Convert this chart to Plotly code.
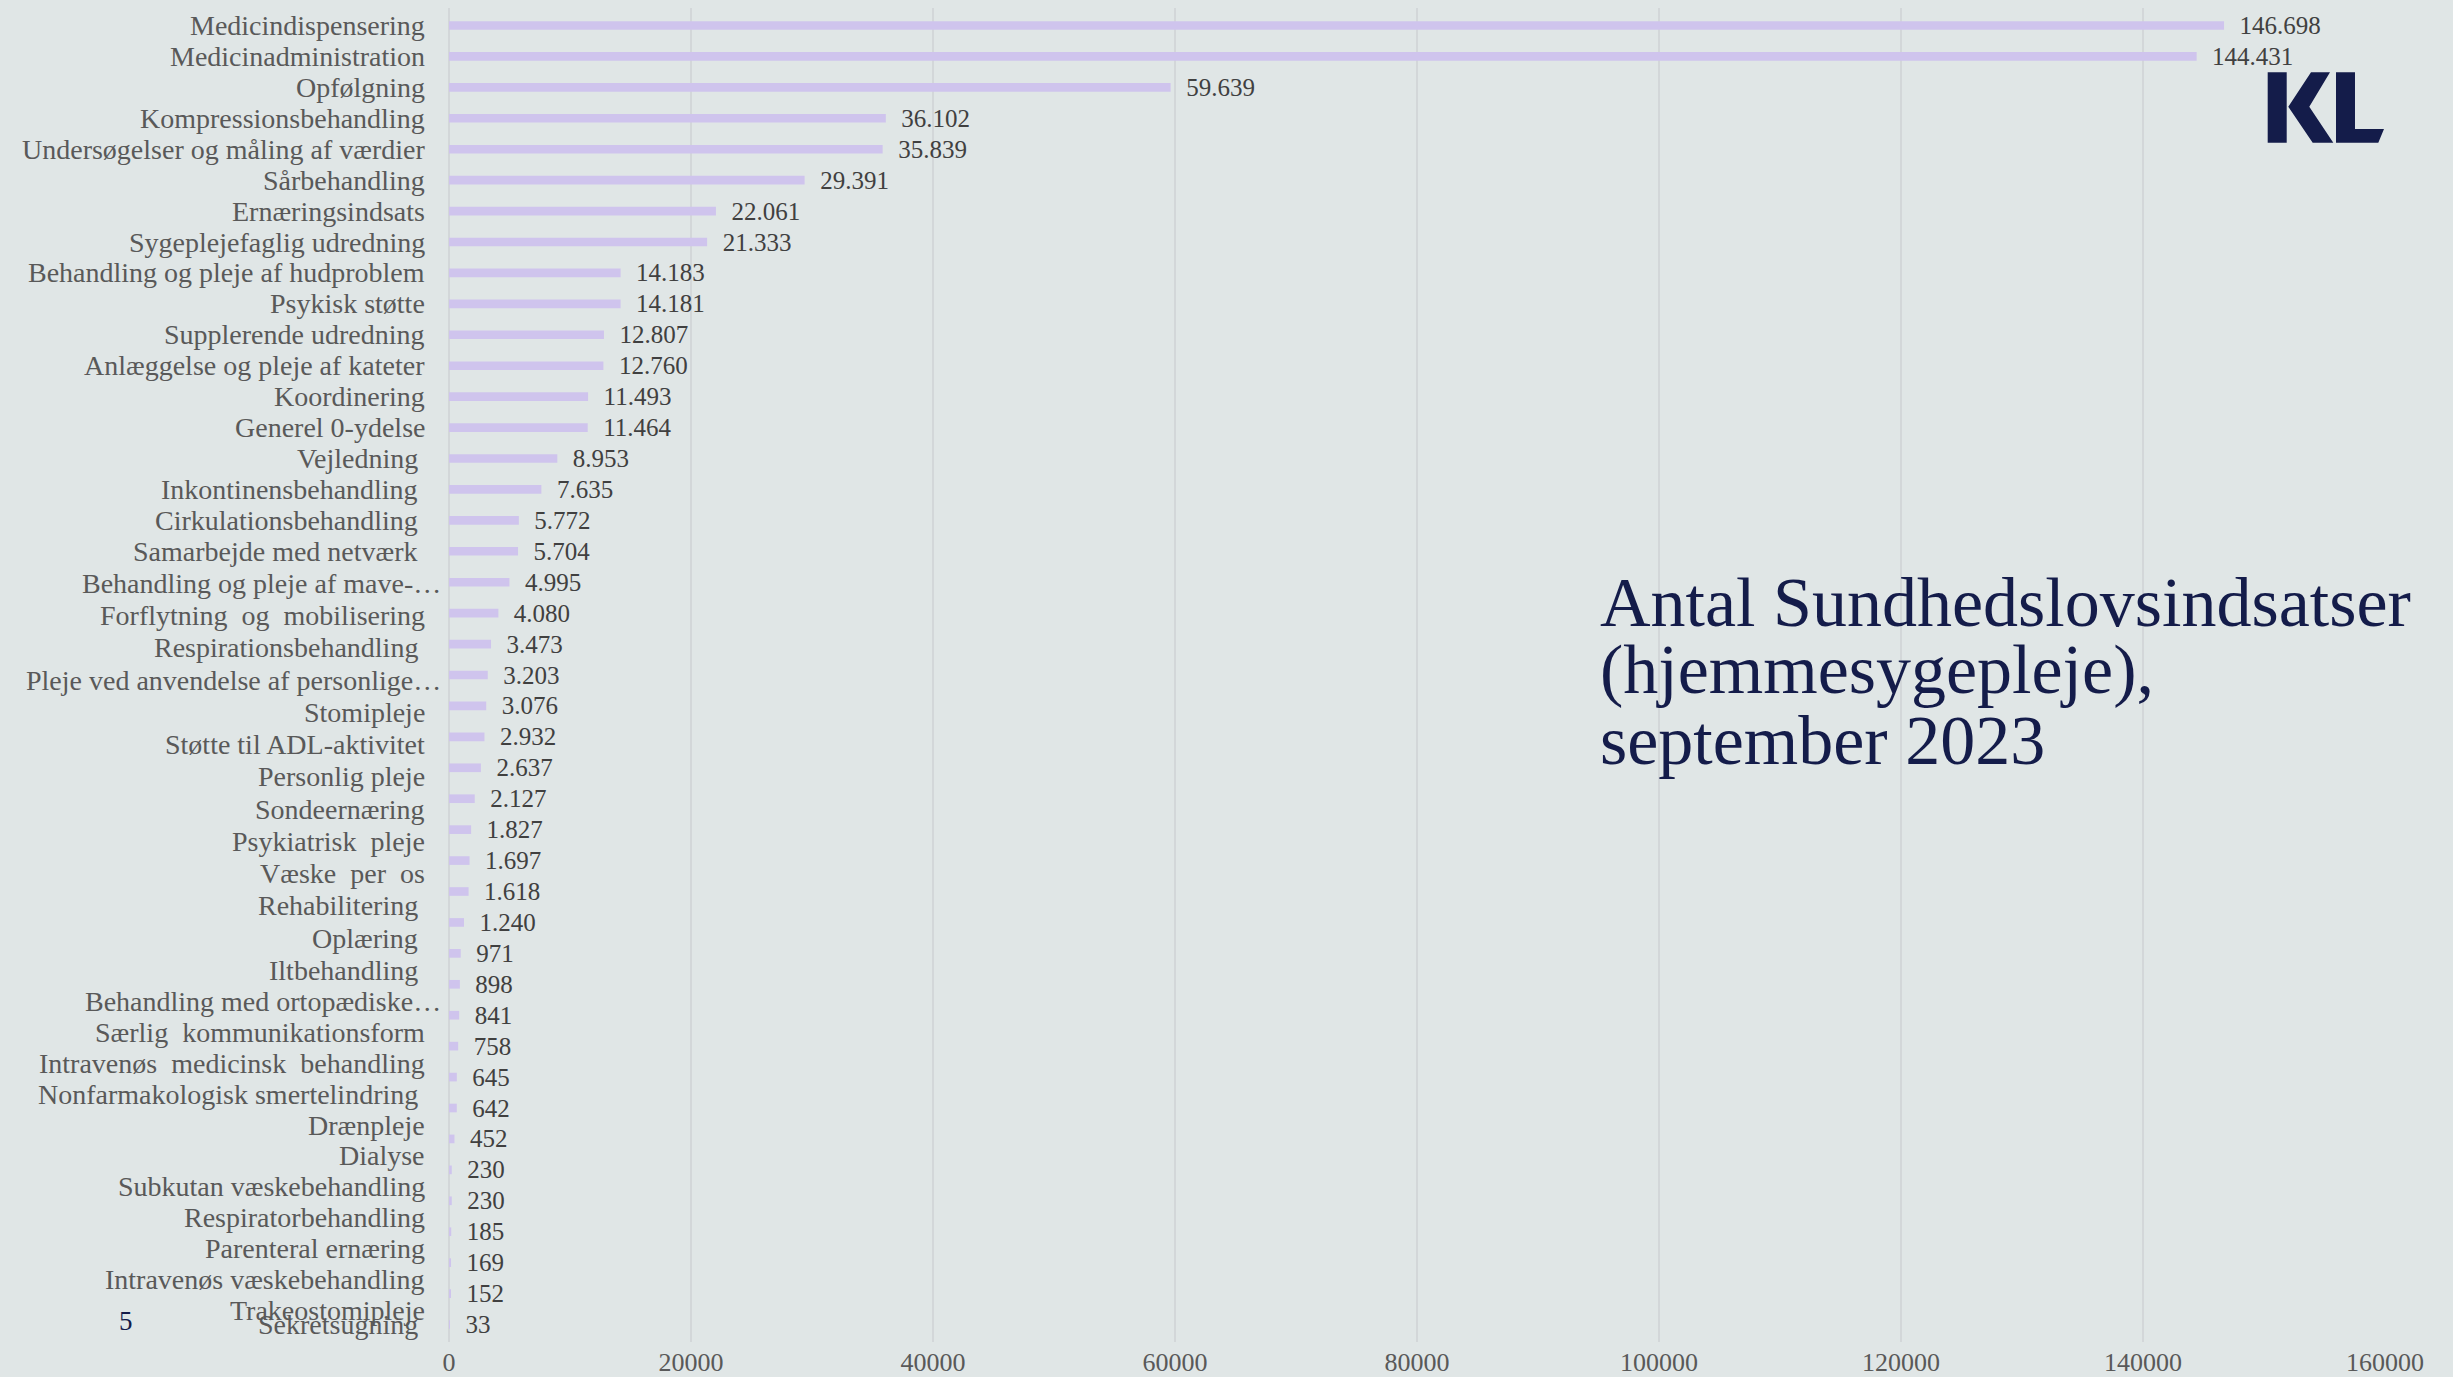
import plotly.graph_objects as go

categories = [
    "Medicindispensering", "Medicinadministration", "Opfølgning", "Kompressionsbehandling",
    "Undersøgelser og måling af værdier", "Sårbehandling", "Ernæringsindsats",
    "Sygeplejefaglig udredning", "Behandling og pleje af hudproblem", "Psykisk støtte",
    "Supplerende udredning", "Anlæggelse og pleje af kateter", "Koordinering",
    "Generel 0-ydelse", "Vejledning\u00a0", "Inkontinensbehandling\u00a0", "Cirkulationsbehandling\u00a0",
    "Samarbejde med netværk\u00a0", "Behandling og pleje af mave-…", "Forflytning\u00a0 og\u00a0 mobilisering",
    "Respirationsbehandling\u00a0", "Pleje ved anvendelse af personlige…", "Stomipleje",
    "Støtte til ADL-aktivitet", "Personlig pleje", "Sondeernæring", "Psykiatrisk\u00a0 pleje",
    "Væske\u00a0 per\u00a0 os", "Rehabilitering\u00a0", "Oplæring\u00a0", "Iltbehandling\u00a0",
    "Behandling med ortopædiske…", "Særlig\u00a0 kommunikationsform",
    "Intravenøs\u00a0 medicinsk\u00a0 behandling", "Nonfarmakologisk smertelindring\u00a0",
    "Drænpleje", "Dialyse", "Subkutan væskebehandling", "Respiratorbehandling",
    "Parenteral ernæring", "Intravenøs væskebehandling", "Trakeostomipleje", "Sekretsugning\u00a0",
]
values = [
    146698, 144431, 59639, 36102, 35839, 29391, 22061, 21333, 14183, 14181,
    12807, 12760, 11493, 11464, 8953, 7635, 5772, 5704, 4995, 4080,
    3473, 3203, 3076, 2932, 2637, 2127, 1827, 1697, 1618, 1240,
    971, 898, 841, 758, 645, 642, 452, 230, 230, 185,
    169, 152, 33,
]
x_ticks = [0, 20000, 40000, 60000, 80000, 100000, 120000, 140000, 160000]
title_lines = ["Antal Sundhedslovsindsatser", "(hjemmesygepleje),", "september 2023"]
page_number = "5"

W, H = 2453, 1377
ML, MR, MT, MB = 449, 68, 8, 35
PW, PH = W - ML - MR, H - MT - MB

BG = "#e0e6e6"
BAR = "#cfc4ed"
GRID = "#d3d7d9"
LABEL = "#595959"
VALUE = "#404040"
NAVY = "#141c4a"
FONT = "Liberation Serif"


def px(xp):
    return (xp - ML) / PW


def py(yp):
    return 1 - (yp - MT) / PH


fig = go.Figure()
fig.add_trace(go.Bar(
    y=categories, x=values, orientation="h",
    marker=dict(color=BAR, line=dict(width=0)),
    texttemplate="\u00a0\u00a0%{x:,}", textposition="outside",
    constraintext="none", cliponaxis=False,
    textfont=dict(family=FONT, size=25, color=VALUE),
    hoverinfo="skip",
))

annotations = []
n = len(categories)
for i, c in enumerate(categories):
    drift = min(17.0, max(0.0, (i - 17) * 1.3))
    if i == n - 1:
        drift = 0.0
    xs = -22 + (16 if c.endswith("…") else 0)
    annotations.append(dict(
        x=0, xref="paper", y=c, yref="y", text=c, showarrow=False,
        xanchor="right", yanchor="middle", xshift=xs, yshift=-drift,
        font=dict(family=FONT, size=28, color=LABEL),
    ))

title_y = [602, 670, 740]
for t, yp in zip(title_lines, title_y):
    annotations.append(dict(
        x=px(1598), xref="paper", y=py(yp), yref="paper", text=t, showarrow=False,
        xanchor="left", yanchor="middle",
        font=dict(family=FONT, size=70, color=NAVY),
    ))

annotations.append(dict(
    x=px(126), xref="paper", y=py(1321), yref="paper", text=page_number, showarrow=False,
    xanchor="center", yanchor="middle",
    font=dict(family=FONT, size=27, color=NAVY),
))


def path(points):
    return "M " + " L ".join(f"{px(a):.5f},{py(b):.5f}" for a, b in points) + " Z"


logo_parts = [
    [(2267.7, 72.3), (2286.7, 72.3), (2286.7, 142.7), (2267.7, 142.7)],
    [(2311, 72.3), (2330, 72.3), (2309.3, 106.7), (2333.3, 142.7), (2312.7, 142.7), (2288.3, 106.7)],
    [(2336, 72.3), (2355, 72.3), (2355, 129), (2384, 129), (2378.3, 142.7), (2336, 142.7)],
]
shapes = [dict(type="path", xref="paper", yref="paper", path=path(p),
               fillcolor=NAVY, line=dict(width=0), layer="above") for p in logo_parts]

fig.update_layout(
    width=W, height=H,
    margin=dict(l=ML, r=MR, t=MT, b=MB, pad=0, autoexpand=False),
    paper_bgcolor=BG, plot_bgcolor=BG,
    bargap=0.72, showlegend=False,
    separators=",.",
    annotations=annotations, shapes=shapes,
    xaxis=dict(
        range=[0, 160000], tickvals=x_ticks, tickformat="d",
        showgrid=True, gridcolor=GRID, gridwidth=1.5,
        zeroline=True, zerolinecolor=GRID, zerolinewidth=1.5,
        showline=False, ticks="", automargin=False,
        tickfont=dict(family=FONT, size=26, color=LABEL),
        ticklabelstandoff=2,
    ),
    yaxis=dict(
        type="category", autorange="reversed", showgrid=False, automargin=False,
        showticklabels=False, ticks="", zeroline=False, showline=False,
    ),
)

fig.write_html(
    "out.html",
    config={"displayModeBar": False},
    post_script="document.body.style.margin='0';document.body.style.background='" + BG + "';",
)
